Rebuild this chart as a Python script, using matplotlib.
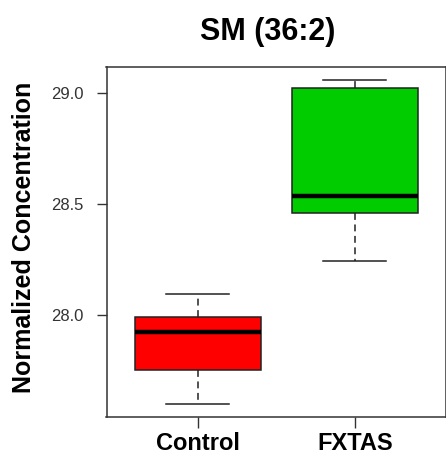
import matplotlib
matplotlib.use("Agg")
import matplotlib.pyplot as plt

categories = ["Control", "FXTAS"]
whisker_low = [27.598, 28.243]
q1_values = [27.752, 28.461]
medians = [27.925, 28.537]
q3_values = [27.992, 29.024]
whisker_high = [28.093, 29.059]
box_colors = ["#FF0000", "#00CC00"]
y_ticks = [28.0, 28.5, 29.0]
y_tick_labels = ["28.0", "28.5", "29.0"]
title = "SM (36:2)"
y_label = "Normalized Concentration"

plt.rcParams['font.family'] = ['Liberation Sans', 'DejaVu Sans']

fig = plt.figure(figsize=(4.46, 4.55), dpi=100)
ax = fig.add_axes([106.5/446, 1 - 417/455, (446 - 106.5)/446, (417 - 67)/455])

stats = []
for i, name in enumerate(categories):
    stats.append(dict(label=name, med=medians[i], q1=q1_values[i], q3=q3_values[i],
                      whislo=whisker_low[i], whishi=whisker_high[i], fliers=[]))

bp = ax.bxp(stats, positions=[1, 2], widths=0.8, patch_artist=True, showfliers=False,
            boxprops=dict(linewidth=1.1, edgecolor="#222222"),
            medianprops=dict(color="black", linewidth=3.2, solid_capstyle="butt"),
            whiskerprops=dict(color="#222222", linewidth=1.1, linestyle=(0, (4.5, 3))),
            capprops=dict(color="#222222", linewidth=1.1),
            capwidths=0.4)
for patch, c in zip(bp['boxes'], box_colors):
    patch.set_facecolor(c)

ax.set_xlim(0.42, 2.58)
ax.set_ylim(27.540, 29.117)
ax.set_yticks(y_ticks)
ax.set_yticklabels(y_tick_labels, fontsize=12, color="#333333")
ax.set_xticks([1, 2])
ax.set_xticklabels(categories, fontsize=17, fontweight="bold")
ax.tick_params(axis='y', length=7.5, width=1.0, color="#333333", pad=9)
ax.tick_params(axis='x', length=8, width=1.0, color="#333333", pad=3)
for s in ax.spines.values():
    s.set_color("#333333")
    s.set_linewidth(1.1)

fig.text(268/446, 1 - 32/455, title, fontsize=22, fontweight="bold", ha="center", va="center")
fig.text(24/446, 1 - 237.5/455, y_label, fontsize=18, fontweight="bold", rotation=90,
         ha="center", va="center")

fig.savefig("out.png", dpi=100)
